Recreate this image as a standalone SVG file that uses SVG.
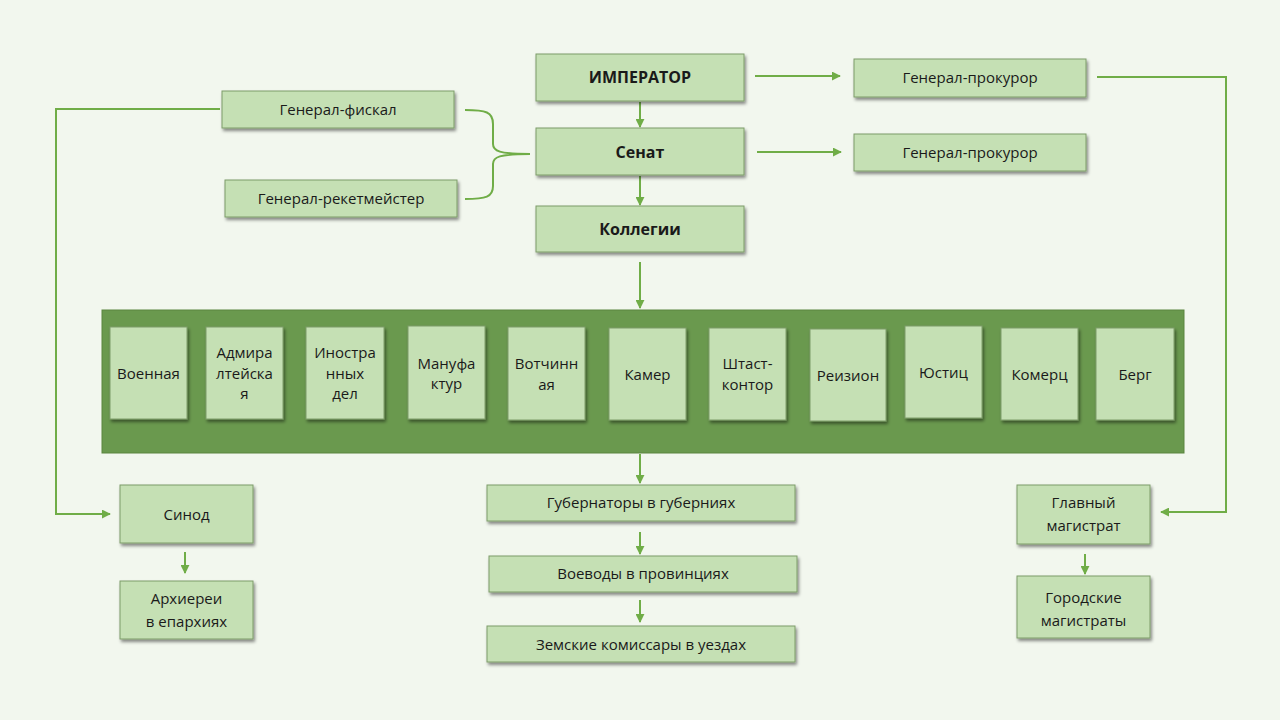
<svg xmlns="http://www.w3.org/2000/svg" width="1280" height="720" viewBox="0 0 1280 720">
<defs>
<style>
.bx{fill:#c5e0b4;stroke:#7d9c69;stroke-width:1;filter:url(#sh)}
.t{font-family:"Open Sans","DejaVu Sans",sans-serif;font-size:15px;fill:#1a1a1a;text-anchor:middle}
.b{font-weight:bold;font-size:16px}
.c{fill:none;stroke:#70ad47;stroke-width:2}
.a{marker-end:url(#ah)}
</style>
<filter id="sh" x="-10%" y="-10%" width="130%" height="140%">
<feDropShadow dx="1.5" dy="2.5" stdDeviation="1.5" flood-color="#000" flood-opacity="0.45"/>
</filter>
<marker id="ah" viewBox="0 0 10 10" refX="9" refY="5" markerWidth="4.5" markerHeight="4.5" orient="auto" markerUnits="strokeWidth">
<path d="M0,0 L10,5 L0,10 Z" fill="#70ad47"/>
</marker>
</defs>
<rect width="1280" height="720" fill="#f2f7ee"/>

<g id="connectors">
<path class="c a" d="M640,102 L640,127"/>
<path class="c a" d="M640,176 L640,205"/>
<path class="c a" d="M640,262 L640,308"/>
<path class="c a" d="M640,454 L640,483"/>
<path class="c a" d="M640,532 L640,554"/>
<path class="c a" d="M640,600 L640,622"/>
<path class="c a" d="M755,76 L840,76"/>
<path class="c a" d="M757,152 L841,152"/>
<path class="c a" d="M1097,77 L1226,77 L1226,512 L1161,512"/>
<path class="c a" d="M220,109 L56,109 L56,514 L110,514"/>
<path class="c a" d="M185,552 L185,573"/>
<path class="c a" d="M1085,554 L1085,574"/>
<path class="c" d="M465,110 C486,110 493,112 493,124 L493,144 C493,151 499,154 530,154 M465,199 C486,199 493,197 493,186 L493,164 C493,157 499,154 530,154"/>
</g>

<g id="imperator"><rect class="bx" x="536" y="54" width="208" height="47"/><text class="t b" x="640" y="83">ИМПЕРАТОР</text></g>
<g id="senat"><rect class="bx" x="536" y="128" width="208" height="47"/><text class="t b" x="640" y="158">Сенат</text></g>
<g id="kollegii"><rect class="bx" x="536" y="206" width="208" height="46"/><text class="t b" x="640" y="235">Коллегии</text></g>
<g id="genprok1"><rect class="bx" x="854" y="59" width="232" height="38"/><text class="t" x="970" y="83">Генерал-прокурор</text></g>
<g id="genprok2"><rect class="bx" x="854" y="134" width="232" height="37"/><text class="t" x="970" y="158">Генерал-прокурор</text></g>
<g id="genfiskal"><rect class="bx" x="222" y="91" width="232" height="37"/><text class="t" x="338" y="115">Генерал-фискал</text></g>
<g id="genreket"><rect class="bx" x="225" y="180" width="232" height="37"/><text class="t" x="341" y="204">Генерал-рекетмейстер</text></g>

<g id="collegia-container">
<rect x="102" y="310" width="1082" height="143" fill="#6a994e" stroke="#5a853f" stroke-width="1"/>
</g>
<g id="voennaya"><rect class="bx" x="110" y="327" width="77" height="92"/><text class="t" x="148.5" y="379">Военная</text></g>
<g id="admiralteyskaya"><rect class="bx" x="206" y="327" width="77" height="92"/><text class="t" x="244.5" y="358">Адмира</text><text class="t" x="244.5" y="378.5">лтейска</text><text class="t" x="244.5" y="399">я</text></g>
<g id="inostrannyh"><rect class="bx" x="306" y="327" width="78" height="92"/><text class="t" x="345" y="358">Иностра</text><text class="t" x="345" y="378.5">нных</text><text class="t" x="345" y="399">дел</text></g>
<g id="manufaktur"><rect class="bx" x="408" y="326" width="77" height="93"/><text class="t" x="446.5" y="369">Мануфа</text><text class="t" x="446.5" y="389">ктур</text></g>
<g id="votchinnaya"><rect class="bx" x="508" y="327" width="77" height="93"/><text class="t" x="546.5" y="369">Вотчинн</text><text class="t" x="546.5" y="390">ая</text></g>
<g id="kamer"><rect class="bx" x="609" y="328" width="77" height="92"/><text class="t" x="647.5" y="380">Камер</text></g>
<g id="shtast"><rect class="bx" x="709" y="328" width="77" height="92"/><text class="t" x="747.5" y="369">Штаст-</text><text class="t" x="747.5" y="390">контор</text></g>
<g id="reizion"><rect class="bx" x="810" y="329" width="76" height="92"/><text class="t" x="848" y="381">Реизион</text></g>
<g id="yustic"><rect class="bx" x="905" y="326" width="77" height="92"/><text class="t" x="943.5" y="378">Юстиц</text></g>
<g id="komerc"><rect class="bx" x="1001" y="328" width="77" height="92"/><text class="t" x="1039.5" y="380">Комерц</text></g>
<g id="berg"><rect class="bx" x="1096" y="328" width="78" height="92"/><text class="t" x="1135" y="380">Берг</text></g>

<g id="sinod"><rect class="bx" x="120" y="485" width="133" height="58"/><text class="t" x="186.5" y="520">Синод</text></g>
<g id="arhierei"><rect class="bx" x="120" y="581" width="133" height="58"/><text class="t" x="186.5" y="604">Архиереи</text><text class="t" x="186.5" y="627">в епархиях</text></g>
<g id="gubernatory"><rect class="bx" x="487" y="485" width="308" height="36"/><text class="t" x="641" y="508">Губернаторы в губерниях</text></g>
<g id="voevody"><rect class="bx" x="489" y="556" width="308" height="36"/><text class="t" x="643" y="579">Воеводы в провинциях</text></g>
<g id="zemskie"><rect class="bx" x="487" y="626" width="308" height="36"/><text class="t" x="641" y="650">Земские комиссары в уездах</text></g>
<g id="glavny"><rect class="bx" x="1017" y="485" width="133" height="59"/><text class="t" x="1083.5" y="508">Главный</text><text class="t" x="1083.5" y="531">магистрат</text></g>
<g id="gorodskie"><rect class="bx" x="1017" y="576" width="133" height="62"/><text class="t" x="1083.5" y="603">Городские</text><text class="t" x="1083.5" y="626">магистраты</text></g>
</svg>
